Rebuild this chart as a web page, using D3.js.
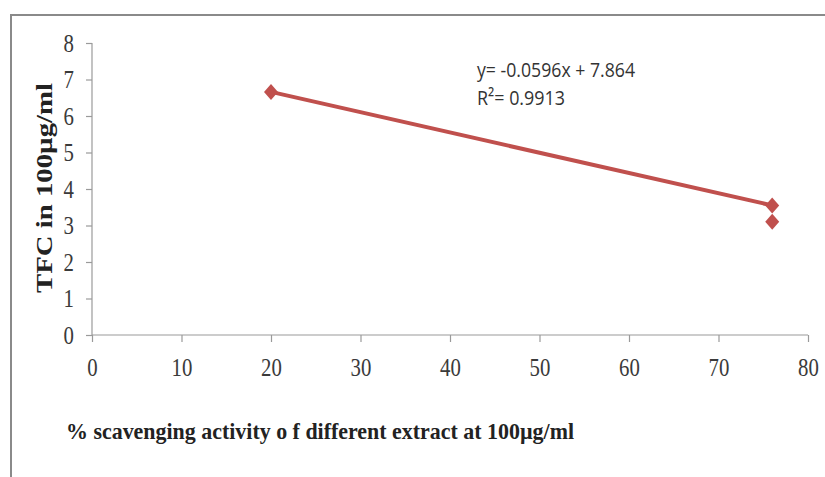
<!DOCTYPE html>
<html>
<head>
<meta charset="utf-8">
<script src="https://cdn.jsdelivr.net/npm/d3@7"></script>
<style>
  body { margin: 0; background: #fff; }
  svg { display: block; }
</style>
</head>
<body>
<div id="chart"></div>
<script>
const width = 825,
  height = 477;

// data
const activity = [20, 76, 76];
const tfc = [6.66, 3.55, 3.10];
const xTicks = [0, 10, 20, 30, 40, 50, 60, 70, 80];
const yTicks = [0, 1, 2, 3, 4, 5, 6, 7, 8];
const equation = ['y= -0.0596x + 7.864', 'R\u00b2= 0.9913'];
const xTitle = '% scavenging activity o f different extract at 100\u00b5g/ml';
const yTitle = 'TFC in 100\u00b5g/ml';

const red = '#c0504d';
const grey = '#9a9a9a';
const squeeze = 0.8; // the picture looks squashed sideways

const svg = d3.select('#chart').append('svg')
  .attr('width', width)
  .attr('height', height);

// outer frame (only top and left edges are visible)
svg.append('path')
  .attr('d', `M11,${height} V15 H${width}`)
  .attr('fill', 'none')
  .attr('stroke', '#8a8a8a')
  .attr('stroke-width', 2);

const x = d3.scaleLinear().domain([0, 80]).range([92, 808]);
const y = d3.scaleLinear().domain([0, 8]).range([335, 43]);

const xAxis = svg.append('g')
  .attr('transform', `translate(0,${y(0)})`)
  .call(d3.axisBottom(x).tickValues(xTicks).tickSize(7).tickPadding(16));

const yAxis = svg.append('g')
  .attr('transform', `translate(${x(0)},0)`)
  .call(d3.axisLeft(y).tickValues(yTicks).tickSize(6).tickPadding(12));

[xAxis, yAxis].forEach((g) => {
  g.selectAll('path, line').attr('stroke', grey).attr('stroke-width', 1.2);
  g.selectAll('text')
    .attr('fill', '#3a3a3a')
    .attr('transform', `scale(${squeeze},1)`)
    .style('font-family', '"Liberation Serif", "Times New Roman", serif')
    .style('font-size', '26px');
});
yAxis.selectAll('text').attr('x', -18 / squeeze);
xAxis.select('.domain').attr('d', `M${x(0)},0H${x(80)}`);
yAxis.select('.domain').attr('d', `M0,${y(8)}V${y(0)}`);

const pts = activity.map((d, i) => ({ x: d, y: tfc[i] }));

svg.append('path')
  .datum(pts.slice(0, 2))
  .attr('d', d3.line().x(d => x(d.x)).y(d => y(d.y)))
  .attr('fill', 'none')
  .attr('stroke', red)
  .attr('stroke-width', 4);

svg.selectAll('.pt')
  .data(pts)
  .enter()
  .append('path')
  .attr('class', 'pt')
  .attr('transform', d => `translate(${x(d.x)},${y(d.y)})`)
  .attr('d', 'M0,-8L7,0L0,8L-7,0Z')
  .attr('fill', red);

svg.selectAll('.eq')
  .data(equation)
  .enter()
  .append('text')
  .attr('class', 'eq')
  .attr('x', 477)
  .attr('y', (d, i) => 77 + i * 28)
  .attr('textLength', (d, i) => (i === 0 ? 158 : 88))
  .attr('lengthAdjust', 'spacingAndGlyphs')
  .style('font-family', '"Open Sans", "Liberation Sans", sans-serif')
  .style('font-size', '20px')
  .attr('fill', '#333')
  .text(d => d);

svg.append('text')
  .attr('x', 66)
  .attr('y', 439)
  .attr('textLength', 508)
  .attr('lengthAdjust', 'spacingAndGlyphs')
  .style('font-family', '"Liberation Serif", "Times New Roman", serif')
  .style('font-weight', 'bold')
  .style('font-size', '23px')
  .attr('fill', '#222')
  .text(xTitle);

svg.append('text')
  .attr('transform', 'translate(52,188) rotate(-90)')
  .attr('text-anchor', 'middle')
  .attr('textLength', 210)
  .attr('lengthAdjust', 'spacingAndGlyphs')
  .style('font-family', '"Liberation Serif", "Times New Roman", serif')
  .style('font-weight', 'bold')
  .style('font-size', '23px')
  .attr('fill', '#222')
  .text(yTitle);
</script>
</body>
</html>
